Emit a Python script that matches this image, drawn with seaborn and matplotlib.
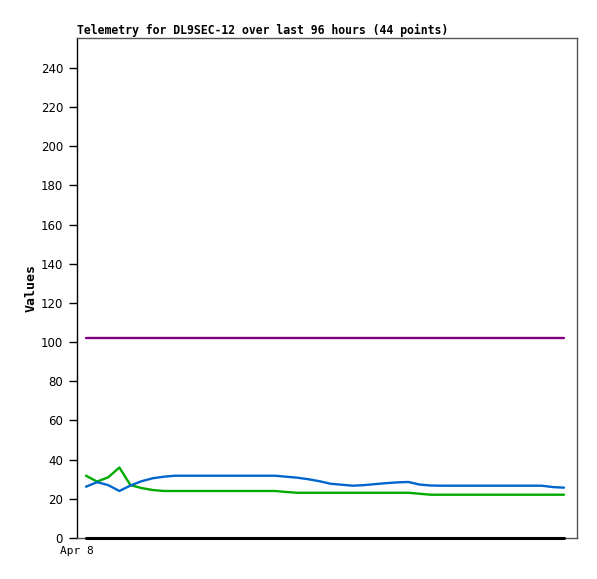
import numpy as np
import pandas as pd
import matplotlib
matplotlib.use("Agg")
import matplotlib.pyplot as plt
import seaborn as sns

# Telemetry values (44 points)
blue_vals = [26.2, 28.5, 27.0, 24.0, 26.8, 29.0, 30.5, 31.3, 31.8, 31.8,
             31.8, 31.8, 31.8, 31.8, 31.8, 31.8, 31.8, 31.8, 31.3, 30.8,
             30.0, 29.0, 27.7, 27.2, 26.7, 27.0, 27.5, 28.0, 28.4, 28.6,
             27.3, 26.8, 26.7, 26.7, 26.7, 26.7, 26.7, 26.7, 26.7, 26.7,
             26.7, 26.7, 26.0, 25.7]
green_vals = [31.8, 28.8, 31.0, 36.0, 27.0, 25.5, 24.5, 24.0, 24.0, 24.0,
              24.0, 24.0, 24.0, 24.0, 24.0, 24.0, 24.0, 24.0, 23.5, 23.1,
              23.1, 23.1, 23.1, 23.1, 23.1, 23.1, 23.1, 23.1, 23.1, 23.1,
              22.6, 22.1, 22.1, 22.1, 22.1, 22.1, 22.1, 22.1, 22.1, 22.1,
              22.1, 22.1, 22.1, 22.1]
purple_vals = [102.3] * 44
black_vals = [0.0] * 44

x_tick_labels = ["Apr 8"]
y_ticks = [0, 20, 40, 60, 80, 100, 120, 140, 160, 180, 200, 220, 240]

idx = np.arange(len(blue_vals))
df = pd.DataFrame({"idx": idx, "blue": blue_vals, "green": green_vals,
                   "purple": purple_vals, "black": black_vals})

sns.set_style("white")
plt.rcParams["text.color"] = "black"
plt.rcParams["axes.labelcolor"] = "black"
plt.rcParams["xtick.color"] = "black"
plt.rcParams["ytick.color"] = "black"

fig = plt.figure(figsize=(5.97, 5.79), dpi=100)
ax = fig.add_axes([77 / 597, 41 / 579, 500 / 597, 500 / 579])

sns.lineplot(data=df, x="idx", y="black", color="black", linewidth=2.2, ax=ax, clip_on=False, zorder=5)
sns.lineplot(data=df, x="idx", y="purple", color="#800080", linewidth=1.7, ax=ax)
sns.lineplot(data=df, x="idx", y="green", color="#00aa00", linewidth=1.7, ax=ax)
sns.lineplot(data=df, x="idx", y="blue", color="#0066cc", linewidth=1.7, ax=ax)

ax.set_xlim(-0.81, 44.17)
ax.set_ylim(0, 255.3)
ax.set_yticks(y_ticks)
ax.set_yticklabels([str(v) for v in y_ticks], fontsize=8.5, family="DejaVu Sans")
ax.set_xticks([-0.81])
ax.set_xticklabels(x_tick_labels, fontsize=8, family="DejaVu Sans Mono")
ax.tick_params(axis="y", direction="out", length=6, width=1, pad=4, left=True)
ax.tick_params(axis="x", length=0, pad=6)

ax.set_xlabel("")
ax.set_ylabel("Values", fontsize=9.5, family="DejaVu Sans Mono", fontweight="bold", labelpad=2)
ax.set_title("Telemetry for DL9SEC-12 over last 96 hours (44 points)",
             fontsize=8.3, family="DejaVu Sans Mono", fontweight="bold",
             loc="left", pad=3)

for side in ["top", "right", "bottom"]:
    ax.spines[side].set_color("#555555")
    ax.spines[side].set_linewidth(1)
ax.spines["left"].set_color("black")
ax.spines["left"].set_linewidth(1)

fig.savefig("out.png", dpi=100)
